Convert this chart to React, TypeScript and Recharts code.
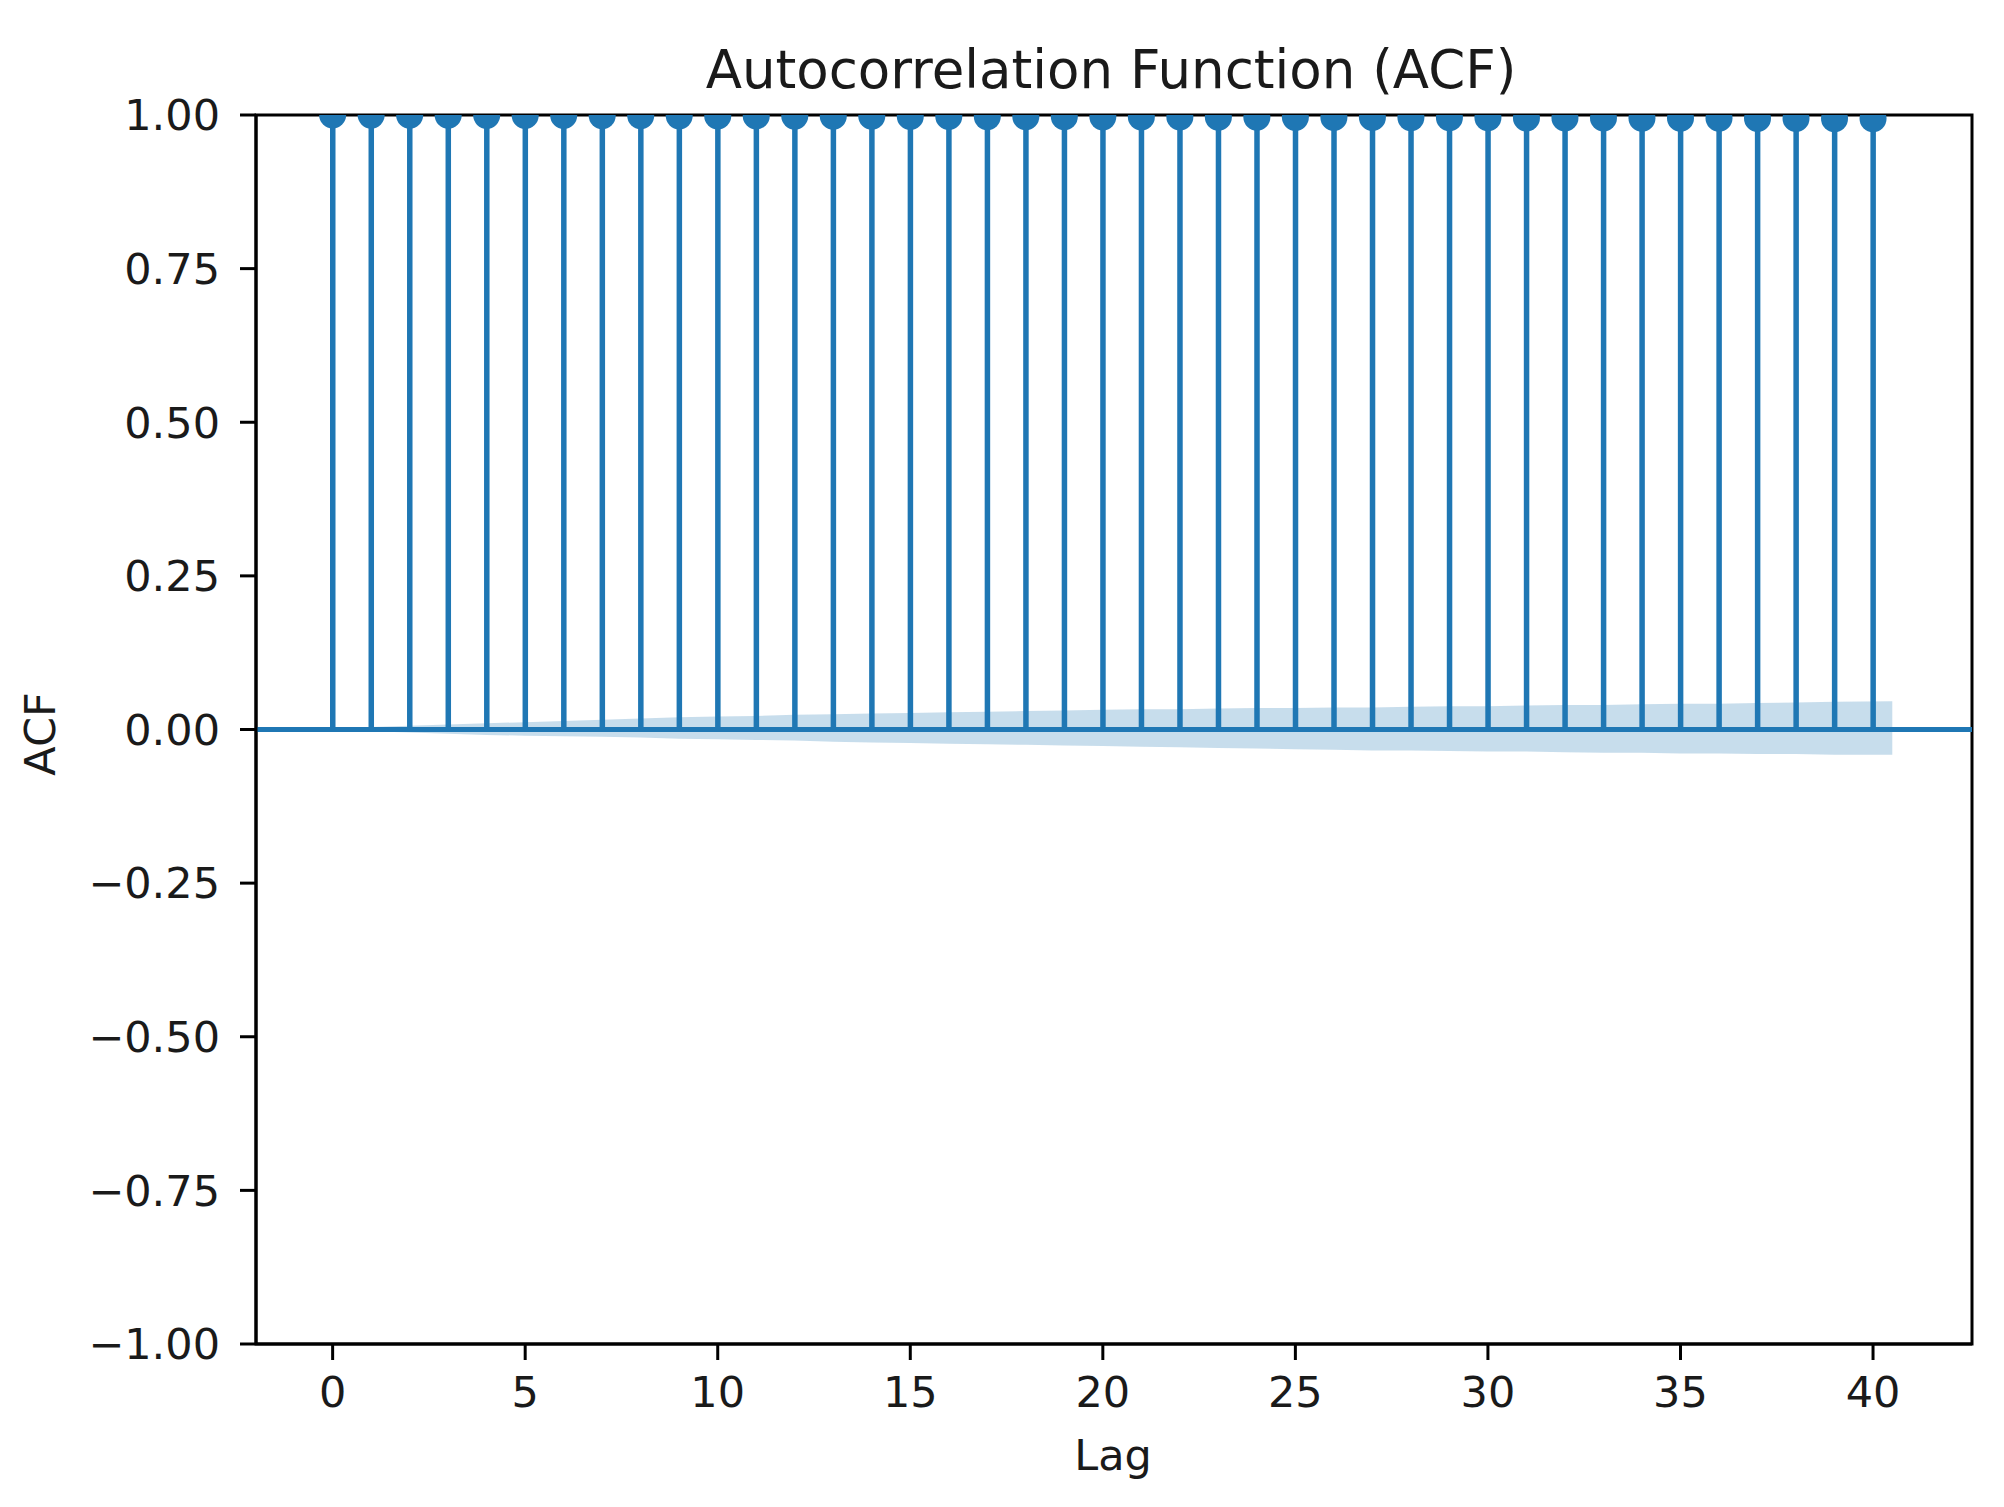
import {
  ComposedChart,
  Bar,
  Scatter,
  Area,
  XAxis,
  YAxis,
  ReferenceLine,
  ReferenceArea,
} from "recharts";

const lags = [
  0, 1, 2, 3, 4, 5, 6, 7, 8, 9, 10, 11, 12, 13, 14, 15, 16, 17, 18, 19, 20,
  21, 22, 23, 24, 25, 26, 27, 28, 29, 30, 31, 32, 33, 34, 35, 36, 37, 38, 39, 40,
];
const acfValues = [
  1.0, 0.9998, 0.9997, 0.9995, 0.9994, 0.9992, 0.9991, 0.9989, 0.9988, 0.9986,
  0.9985, 0.9983, 0.9982, 0.998, 0.9979, 0.9977, 0.9976, 0.9974, 0.9973, 0.9971,
  0.997, 0.9968, 0.9967, 0.9965, 0.9964, 0.9962, 0.9961, 0.9959, 0.9958, 0.9956,
  0.9955, 0.9953, 0.9952, 0.995, 0.9949, 0.9947, 0.9946, 0.9944, 0.9943, 0.9941,
  0.994,
];

// confidence band (first/last lag pushed out by half a step, like statsmodels)
const bandLags = [
  -0.5, 1, 2, 3, 4, 5, 6, 7, 8, 9, 10, 11, 12, 13, 14, 15, 16, 17, 18, 19, 20,
  21, 22, 23, 24, 25, 26, 27, 28, 29, 30, 31, 32, 33, 34, 35, 36, 37, 38, 39, 40.5,
];
const bandUpper = [
  0, 0.004, 0.006, 0.008, 0.01, 0.012, 0.014, 0.016, 0.018, 0.02, 0.021, 0.022,
  0.024, 0.025, 0.026, 0.027, 0.028, 0.029, 0.03, 0.031, 0.032, 0.033, 0.033,
  0.034, 0.035, 0.035, 0.036, 0.036, 0.037, 0.038, 0.038, 0.039, 0.04, 0.04,
  0.041, 0.042, 0.042, 0.043, 0.044, 0.045, 0.046,
];
const bandLower = [
  0, -0.003, -0.005, -0.007, -0.009, -0.01, -0.011, -0.012, -0.013, -0.015,
  -0.016, -0.017, -0.018, -0.02, -0.021, -0.022, -0.023, -0.024, -0.025, -0.026,
  -0.027, -0.028, -0.029, -0.03, -0.031, -0.032, -0.033, -0.034, -0.034, -0.035,
  -0.036, -0.036, -0.037, -0.038, -0.038, -0.039, -0.039, -0.04, -0.04, -0.041,
  -0.041,
];

const xTicks = [0, 5, 10, 15, 20, 25, 30, 35, 40];
const yTicks = [-1, -0.75, -0.5, -0.25, 0, 0.25, 0.5, 0.75, 1];
const xDomain: [number, number] = [-1.99, 42.57];

const BLUE = "#1f77b4";
const FONT = "'DejaVu Sans', sans-serif";

const stemData = lags.map((lag, i) => ({ lag, acf: acfValues[i] }));
const bandData = bandLags.map((lag, i) => ({ lag, band: [bandLower[i], bandUpper[i]] }));

const fmtY = (v: number) => (v < 0 ? "\u2212" + Math.abs(v).toFixed(2) : v.toFixed(2));

const tickStyle = { fontSize: 43, fill: "#1a1a1a", fontFamily: FONT };

const Marker = (props: any) => {
  if (props.cx == null || props.cy == null) return null;
  return <circle cx={props.cx} cy={props.cy} r={13.5} fill={BLUE} />;
};

export default function App() {
  return (
    <div style={{ position: "absolute", left: 0, top: 0, width: 2004, height: 1507, background: "#fff" }}>
      <ComposedChart
        width={2004}
        height={1507}
        data={stemData}
        margin={{ top: 115, right: 32, bottom: 0, left: 0 }}
      >
        <XAxis
          type="number"
          dataKey="lag"
          domain={xDomain}
          ticks={xTicks}
          interval={0}
          allowDataOverflow
          height={163}
          tickSize={16}
          tickMargin={16}
          tick={tickStyle}
          axisLine={{ stroke: "#000", strokeWidth: 3 }}
          tickLine={{ stroke: "#000", strokeWidth: 3 }}
        />
        <YAxis
          type="number"
          domain={[-1, 1]}
          ticks={yTicks}
          interval={0}
          allowDataOverflow
          width={256}
          tickSize={16}
          tickMargin={20}
          tickFormatter={fmtY}
          tick={tickStyle}
          axisLine={{ stroke: "#000", strokeWidth: 3 }}
          tickLine={{ stroke: "#000", strokeWidth: 3 }}
        />
        <Bar dataKey="acf" barSize={5.5} fill={BLUE} isAnimationActive={false} />
        <ReferenceLine y={0} stroke={BLUE} strokeWidth={5} />
        <Scatter dataKey="acf" shape={Marker} isAnimationActive={false} />
        <Area
          data={bandData}
          dataKey="band"
          type="linear"
          stroke="none"
          fill={BLUE}
          fillOpacity={0.25}
          isAnimationActive={false}
        />
        <ReferenceArea
          x1={xDomain[0]}
          x2={xDomain[1]}
          y1={-1}
          y2={1}
          fill="none"
          stroke="#000"
          strokeWidth={3}
        />
      </ComposedChart>
      <svg
        width={2004}
        height={1507}
        style={{ position: "absolute", left: 0, top: 0, pointerEvents: "none" }}
      >
        <text x={1111} y={88} textAnchor="middle" fontSize={53} fontFamily={FONT} fill="#1a1a1a">
          Autocorrelation Function (ACF)
        </text>
        <text x={1113} y={1470} textAnchor="middle" fontSize={43} fontFamily={FONT} fill="#1a1a1a">
          Lag
        </text>
        <text
          x={55}
          y={734}
          textAnchor="middle"
          fontSize={43}
          fontFamily={FONT}
          fill="#1a1a1a"
          transform="rotate(-90 55 734)"
        >
          ACF
        </text>
      </svg>
    </div>
  );
}
